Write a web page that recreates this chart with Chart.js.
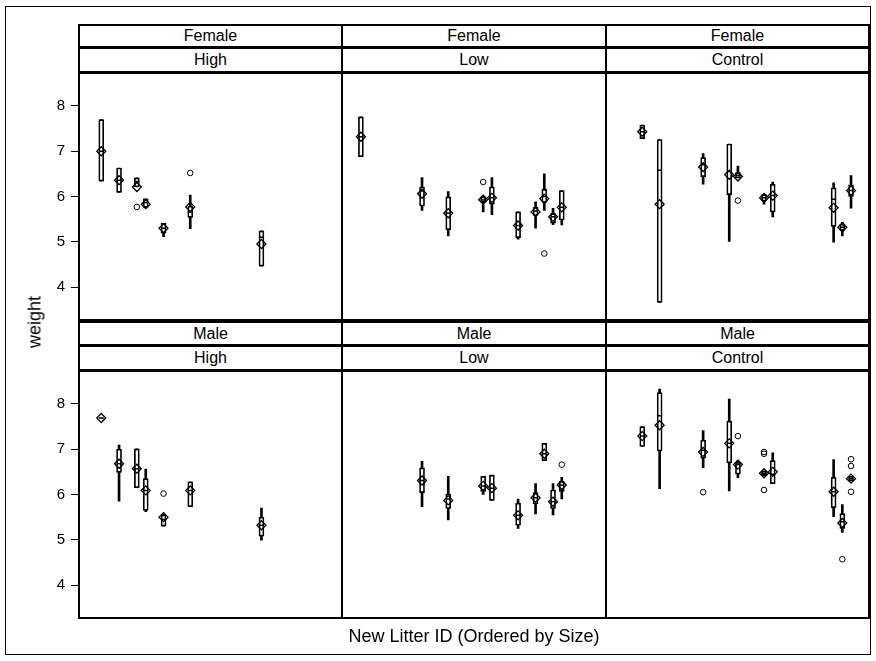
<!DOCTYPE html>
<html><head><meta charset="utf-8">
<script src="https://cdn.jsdelivr.net/npm/chart.js@4/dist/chart.umd.min.js"></script>
<style>
body{margin:0;background:#fff;font-family:'Liberation Sans',Arial,sans-serif;}
#page{position:relative;width:876px;height:661px;overflow:hidden;background:#fff;}
.frame{position:absolute;left:5px;top:6px;width:866px;height:649px;border:1px solid #000;box-sizing:border-box;}
.strip{position:absolute;box-sizing:border-box;border:2px solid #000;font-size:16px;text-align:center;color:#000;background:#fff;}
.pborder{position:absolute;box-sizing:border-box;border:2px solid #000;pointer-events:none;}
canvas{position:absolute;}
.title{position:absolute;font-size:18px;color:#000;white-space:nowrap;}
</style>
</head><body><div id="page"><div class="frame"></div></div>
<script>
// ---------------- data ----------------
const yTicks = [4, 5, 6, 7, 8];
const sexLabels = ['Female', 'Male'];
const groupLabels = ['High', 'Low', 'Control'];

const litterHigh = [2, 4, 6, 7, 9, 12, 20];
const litterLowF = [1, 8, 11, 15, 16, 19, 21, 22, 23, 24];
const litterLowM = [8, 11, 15, 16, 19, 21, 22, 23, 24];
const litterControl = [3, 5, 10, 13, 14, 17, 18, 25, 26, 27];

// Female High
const fHighMin  = [6.34, 6.09, 6.21, 5.76, 5.11, 5.29, 4.46];
const fHighQ1   = [6.34, 6.09, 6.21, 5.76, 5.19, 5.54, 4.46];
const fHighMed  = [7.00, 6.36, 6.33, 5.87, 5.30, 5.66, 5.10];
const fHighQ3   = [7.70, 6.63, 6.41, 5.95, 5.41, 5.79, 5.24];
const fHighMax  = [7.70, 6.63, 6.41, 5.95, 5.41, 6.03, 5.24];
const fHighMean = [7.00, 6.36, 6.21, 5.83, 5.30, 5.77, 4.95];
const fHighOut  = [[6, 5.77], [12, 6.52]];

// Female Low
const fLowMin  = [6.88, 5.69, 5.13, 5.66, 5.60, 5.06, 5.30, 5.69, 5.38, 5.37];
const fLowQ1   = [6.88, 5.79, 5.27, 5.87, 5.83, 5.09, 5.58, 5.87, 5.41, 5.48];
const fLowMed  = [7.32, 6.12, 5.63, 5.92, 5.97, 5.36, 5.68, 6.00, 5.55, 5.76];
const fLowQ3   = [7.76, 6.21, 5.99, 5.99, 6.21, 5.66, 5.76, 6.16, 5.62, 6.13];
const fLowMax  = [7.76, 6.42, 6.11, 6.02, 6.42, 5.66, 5.88, 6.50, 5.74, 6.13];
const fLowMean = [7.32, 6.06, 5.63, 5.93, 5.97, 5.36, 5.66, 5.95, 5.55, 5.76];
const fLowOut  = [[15, 6.32], [22, 4.74]];

// Female Control
const fCtlMin  = [7.28, 3.66, 6.27, 5.01, 6.41, 5.83, 5.55, 4.99, 5.13, 5.74];
const fCtlQ1   = [7.28, 3.66, 6.44, 6.04, 6.41, 5.90, 5.66, 5.34, 5.25, 6.00];
const fCtlMed  = [7.43, 6.58, 6.70, 6.55, 6.47, 5.97, 6.02, 5.94, 5.32, 6.13];
const fCtlQ3   = [7.58, 7.26, 6.86, 7.16, 6.53, 6.04, 6.27, 6.19, 5.39, 6.26];
const fCtlMax  = [7.58, 7.26, 6.95, 7.16, 6.67, 6.04, 6.32, 6.30, 5.43, 6.46];
const fCtlMean = [7.43, 5.83, 6.65, 6.48, 6.44, 5.97, 6.02, 5.75, 5.32, 6.13];
const fCtlOut  = [[14, 5.91]];

// Male High
const mHighMin  = [7.69, 5.85, 6.15, 5.62, 5.30, 5.73, 4.99];
const mHighQ1   = [7.69, 6.49, 6.15, 5.65, 5.30, 5.73, 5.08];
const mHighMed  = [7.69, 6.68, 6.57, 6.09, 5.45, 6.09, 5.32];
const mHighQ3   = [7.69, 7.00, 7.01, 6.35, 5.55, 6.28, 5.50];
const mHighMax  = [7.69, 7.09, 7.01, 6.56, 5.58, 6.28, 5.70];
const mHighMean = [7.69, 6.68, 6.57, 6.09, 5.50, 6.09, 5.32];
const mHighOut  = [[9, 6.02]];

// Male Low
const mLowMin  = [5.73, 5.44, 6.00, 5.87, 5.25, 5.57, 6.75, 5.55, 5.90];
const mLowQ1   = [6.04, 5.69, 6.07, 5.87, 5.32, 5.79, 6.75, 5.69, 6.07];
const mLowMed  = [6.31, 5.90, 6.19, 6.14, 5.54, 5.93, 6.90, 5.84, 6.21];
const mLowQ3   = [6.59, 6.01, 6.40, 6.43, 5.81, 6.04, 7.13, 6.10, 6.29];
const mLowMax  = [6.73, 6.40, 6.40, 6.43, 5.90, 6.24, 7.13, 6.24, 6.38];
const mLowMean = [6.31, 5.87, 6.19, 6.14, 5.54, 5.93, 6.90, 5.84, 6.21];
const mLowOut  = [[24, 6.66]];

// Male Control
const mCtlMin  = [7.06, 6.13, 6.59, 6.08, 6.37, 6.42, 6.24, 5.51, 5.16, 6.30];
const mCtlQ1   = [7.06, 6.96, 6.80, 6.70, 6.45, 6.42, 6.24, 5.71, 5.25, 6.30];
const mCtlMed  = [7.29, 7.74, 6.98, 7.13, 6.66, 6.47, 6.45, 6.06, 5.40, 6.35];
const mCtlQ3   = [7.50, 8.25, 7.20, 7.62, 6.71, 6.52, 6.75, 6.38, 5.58, 6.40];
const mCtlMax  = [7.50, 8.33, 7.41, 8.11, 6.75, 6.52, 6.92, 6.77, 5.78, 6.40];
const mCtlMean = [7.29, 7.53, 6.94, 7.13, 6.66, 6.47, 6.50, 6.06, 5.37, 6.35];
const mCtlOut  = [[10, 6.05], [14, 7.29], [17, 6.94], [17, 6.90], [17, 6.10], [26, 4.57], [27, 6.78], [27, 6.63], [27, 6.06]];

const yMin = 3.4, yMax = 8.6, xMin = -0.5, xMax = 28.4;
const yTitle = 'weight';
const xTitle = 'New Litter ID (Ordered by Size)';

// -------------- layout --------------
const page = document.getElementById('page');
const colX = [79, 342, 606];
const colW = [263, 264, 263];
const rows = [
  { strip1: 24, strip1H: 24, strip2: 47, strip2H: 26, pTop: 73, pH: 247 },
  { strip1: 321, strip1H: 25, strip2: 345, strip2H: 26, pTop: 371, pH: 247 }
];
const panels = [
  [
    { x: litterHigh, mn: fHighMin, q1: fHighQ1, md: fHighMed, q3: fHighQ3, mx: fHighMax, mean: fHighMean, out: fHighOut },
    { x: litterLowF, mn: fLowMin, q1: fLowQ1, md: fLowMed, q3: fLowQ3, mx: fLowMax, mean: fLowMean, out: fLowOut },
    { x: litterControl, mn: fCtlMin, q1: fCtlQ1, md: fCtlMed, q3: fCtlQ3, mx: fCtlMax, mean: fCtlMean, out: fCtlOut }
  ],
  [
    { x: litterHigh, mn: mHighMin, q1: mHighQ1, md: mHighMed, q3: mHighQ3, mx: mHighMax, mean: mHighMean, out: mHighOut },
    { x: litterLowM, mn: mLowMin, q1: mLowQ1, md: mLowMed, q3: mLowQ3, mx: mLowMax, mean: mLowMean, out: mLowOut },
    { x: litterControl, mn: mCtlMin, q1: mCtlQ1, md: mCtlMed, q3: mCtlQ3, mx: mCtlMax, mean: mCtlMean, out: mCtlOut }
  ]
];

function addDiv(cls, left, top, w, h, text) {
  const d = document.createElement('div');
  d.className = cls;
  Object.assign(d.style, { left: left + 'px', top: top + 'px', width: w + 'px', height: h + 'px' });
  if (text !== undefined) { d.textContent = text; d.style.lineHeight = (h - 4) + 'px'; }
  page.appendChild(d);
  return d;
}

const AXW = 74;
rows.forEach((r, ri) => {
  for (let ci = 0; ci < 3; ci++) {
    const bx = colX[ci] - 1, bw = colW[ci] + 2;
    addDiv('strip', bx, r.strip1, bw, r.strip1H, sexLabels[ri]);
    addDiv('strip', bx, r.strip2, bw, r.strip2H, groupLabels[ci]);
    const isLeft = ci === 0;
    const cv = document.createElement('canvas');
    const cw = colW[ci] + (isLeft ? AXW : 0);
    const cl = colX[ci] - (isLeft ? AXW : 0);
    cv.width = cw; cv.height = r.pH;
    Object.assign(cv.style, { left: cl + 'px', top: r.pTop + 'px', width: cw + 'px', height: r.pH + 'px' });
    page.appendChild(cv);
    addDiv('pborder', bx, r.pTop - 1, bw, r.pH + 2);
    const p = panels[ri][ci];
    new Chart(cv, {
      type: 'bar',
      data: {
        datasets: [
          { type: 'bar', order: 5, grouped: false, barThickness: 2, backgroundColor: '#000', borderWidth: 0,
            data: p.x.map((x, i) => ({ x: x, y: [p.mn[i], p.mx[i]] })) },
          { type: 'bar', order: 4, grouped: false, barThickness: 5, backgroundColor: '#fff', borderColor: '#000',
            borderWidth: 1.7, borderSkipped: false,
            data: p.x.map((x, i) => ({ x: x, y: [p.q1[i], p.q3[i]] })) },
          { type: 'scatter', order: 3, pointStyle: 'line', pointRadius: 2.5, borderColor: '#000', borderWidth: 1.5,
            data: p.x.map((x, i) => ({ x: x, y: p.md[i] })) },
          { type: 'scatter', order: 2, pointStyle: 'rectRot', pointRadius: 4.5, borderColor: '#000',
            backgroundColor: 'rgba(0,0,0,0)', borderWidth: 1.3,
            data: p.x.map((x, i) => ({ x: x, y: p.mean[i] })) },
          { type: 'scatter', order: 1, pointStyle: 'circle', pointRadius: 2.8, borderColor: '#000',
            backgroundColor: 'rgba(0,0,0,0)', borderWidth: 1,
            data: p.out.map(o => ({ x: o[0], y: o[1] })) }
        ]
      },
      options: {
        responsive: false, animation: false, devicePixelRatio: 1, events: [],
        layout: { padding: 0 },
        plugins: { legend: { display: false }, tooltip: { enabled: false } },
        scales: {
          x: { type: 'linear', min: xMin, max: xMax, display: false, offset: false },
          y: {
            type: 'linear', min: yMin, max: yMax, display: isLeft,
            afterBuildTicks: s => { s.ticks = yTicks.map(v => ({ value: v })); },
            afterFit: s => { if (isLeft) { s.width = AXW; } s.paddingTop = 0; s.paddingBottom = 0; },
            grid: { drawOnChartArea: false, drawTicks: true, tickLength: 8, tickColor: '#000', tickWidth: 1 },
            border: { display: false },
            ticks: { color: '#000', padding: 6, font: { family: "'Liberation Sans', Arial, sans-serif", size: 15 } }
          }
        }
      }
    });
  }
});

const yt = document.createElement('div');
yt.className = 'title'; yt.textContent = yTitle;
Object.assign(yt.style, { left: '35px', top: '322px', transform: 'translate(-50%,-50%) rotate(-90deg)' });
page.appendChild(yt);
const xt = document.createElement('div');
xt.className = 'title'; xt.textContent = xTitle;
Object.assign(xt.style, { left: '474px', top: '636px', transform: 'translate(-50%,-50%)' });
page.appendChild(xt);
</script></body></html>
